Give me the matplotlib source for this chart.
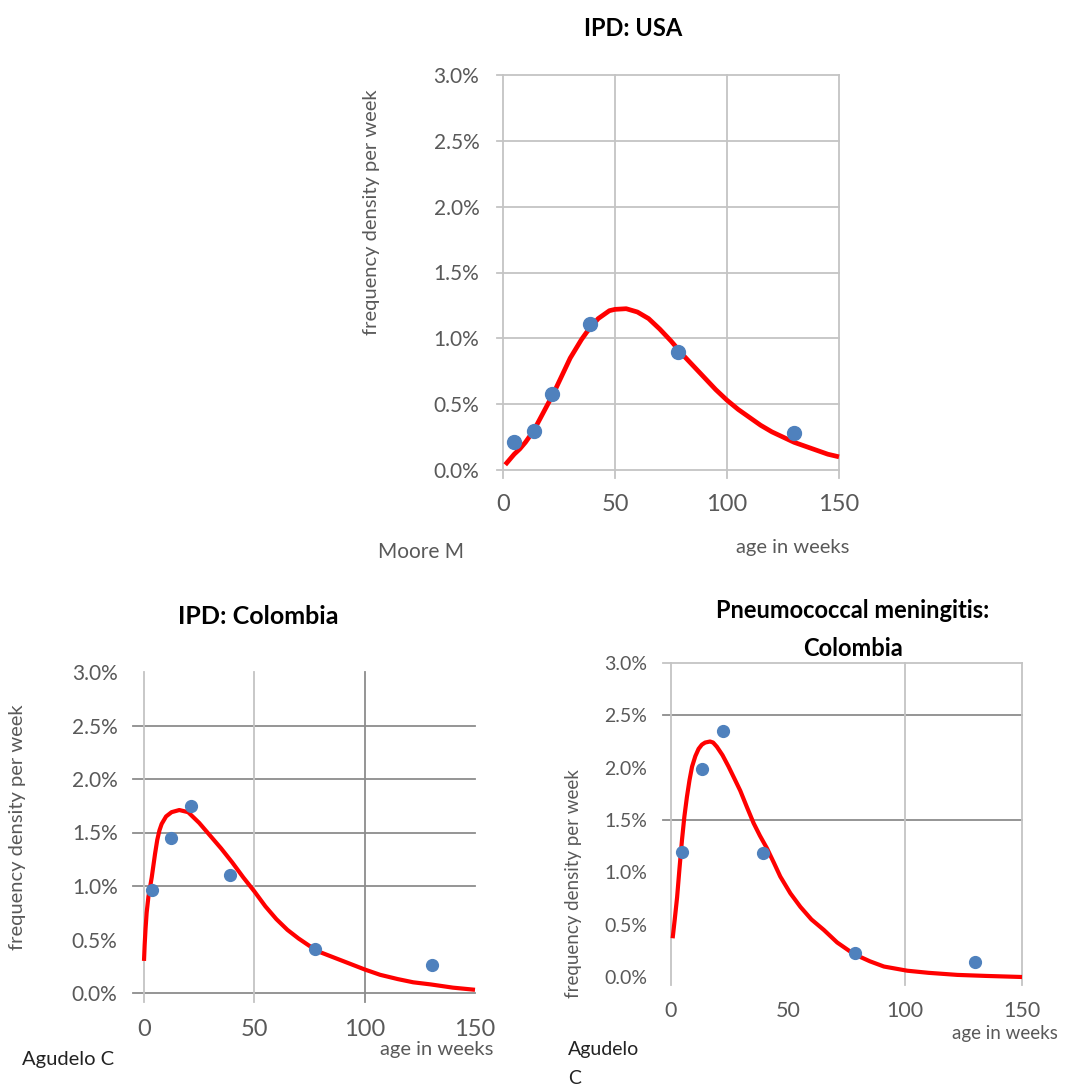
import matplotlib
matplotlib.use("Agg")
import matplotlib.pyplot as plt
from matplotlib.ticker import FixedLocator, FuncFormatter

plt.rcParams['font.family'] = ['Lato', 'DejaVu Sans']

W, H = 1082, 1086

# IPD: USA (Moore M)
usa_obs_weeks = [5, 14, 22, 39, 78, 130]
usa_obs_pct = [0.21, 0.30, 0.58, 1.11, 0.90, 0.28]
usa_fit_weeks = [1, 2.5, 5, 7.5, 10, 12.5, 15, 17.5, 20, 22.5, 25, 27.5, 30, 32.5, 35, 37.5,
                 40, 42.5, 45, 47.5, 50, 55, 60, 65, 70, 75, 80, 85, 90, 95, 100, 105, 110,
                 115, 120, 125, 130, 135, 140, 145, 150]
usa_fit_pct = [0.04, 0.07, 0.12, 0.16, 0.21, 0.27, 0.34, 0.42, 0.50, 0.58, 0.67, 0.76, 0.85,
               0.92, 0.99, 1.05, 1.10, 1.15, 1.18, 1.21, 1.22, 1.225, 1.20, 1.15, 1.07, 0.98,
               0.88, 0.79, 0.70, 0.61, 0.53, 0.46, 0.40, 0.34, 0.29, 0.25, 0.21, 0.18, 0.15,
               0.12, 0.10]

# IPD: Colombia (Agudelo C)
col_obs_weeks = [3.5, 12.2, 21.3, 39, 77.5, 130.3]
col_obs_pct = [0.96, 1.45, 1.75, 1.10, 0.41, 0.26]
col_fit_weeks = [0, 0.3, 0.7, 1.2, 2, 3.5, 5, 6, 7, 8, 10, 12.5, 16, 20, 25, 30, 35, 40, 45,
                 50, 55, 60, 65, 70, 75, 80, 85, 90, 95, 100, 107, 115, 122, 130, 140, 150]
col_fit_pct = [0.30, 0.45, 0.60, 0.75, 0.90, 1.08, 1.30, 1.43, 1.52, 1.58, 1.65, 1.69, 1.71,
               1.69, 1.59, 1.47, 1.35, 1.22, 1.08, 0.95, 0.81, 0.69, 0.59, 0.51, 0.44, 0.38,
               0.34, 0.30, 0.26, 0.22, 0.17, 0.13, 0.10, 0.08, 0.05, 0.03]

# Pneumococcal meningitis: Colombia (Agudelo C)
men_obs_weeks = [4.7, 13.2, 22.1, 39.3, 78.5, 130]
men_obs_pct = [1.19, 1.99, 2.35, 1.18, 0.23, 0.14]
men_fit_weeks = [0.7, 1.6, 2.6, 3.6, 4.7, 5.7, 6.8, 7.9, 9, 10.4, 11.8, 13.2, 14.6, 16.7, 18,
                 19.6, 22, 24.6, 27, 29.6, 32.5, 35.3, 38, 41, 44, 46.7, 51, 55.3, 60, 65.3,
                 71, 78.1, 85, 91, 101, 110, 122.4, 135, 150]
men_fit_pct = [0.37, 0.55, 0.76, 1.03, 1.31, 1.53, 1.72, 1.88, 2.01, 2.11, 2.18, 2.22, 2.24,
               2.25, 2.24, 2.20, 2.12, 2.01, 1.90, 1.78, 1.62, 1.47, 1.35, 1.23, 1.09, 0.96,
               0.80, 0.67, 0.55, 0.45, 0.33, 0.22, 0.15, 0.10, 0.06, 0.04, 0.02, 0.01, 0.0]

x_ticks = [0, 50, 100, 150]
y_ticks = [0.0, 0.5, 1.0, 1.5, 2.0, 2.5, 3.0]

LIGHT = '#c4c4c4'
DARK = '#8c8c8c'
TXT = '#595959'

fig = plt.figure(figsize=(W / 100, H / 100), dpi=100)


def px_axes(left, right, top, bottom):
    return fig.add_axes([left / W, (H - bottom) / H, (right - left) / W, (bottom - top) / H])


def ftext(x, y, s, **kw):
    fig.text(x / W, 1 - y / H, s, **kw)


def panel(ax, hlines, vlines, obs_x, obs_y, fit_x, fit_y, xsize, ysize, pad, hext, vext,
          lw, ms):
    ax.set_xlim(0, 150)
    ax.set_ylim(0, 3.0)
    for s in ax.spines.values():
        s.set_visible(False)
    for y, c in hlines:
        ax.plot([-hext, 150], [y, y], color=c, lw=1.3, clip_on=False, zorder=1)
    for x, c in vlines:
        ax.plot([x, x], [-vext, 3.0], color=c, lw=1.3, clip_on=False, zorder=1)
    ax.plot(fit_x, fit_y, color='#ff0000', lw=lw, zorder=3, clip_on=False,
            solid_capstyle='butt', solid_joinstyle='round')
    ax.plot(obs_x, obs_y, 'o', color='#4f81bd', ms=ms, zorder=4, clip_on=False)
    ax.xaxis.set_major_locator(FixedLocator(x_ticks))
    ax.yaxis.set_major_locator(FixedLocator(y_ticks))
    ax.yaxis.set_major_formatter(FuncFormatter(lambda v, p: f"{v:.1f}%"))
    ax.tick_params(length=0, pad=pad, colors=TXT)
    ax.tick_params(axis='x', labelsize=xsize)
    ax.tick_params(axis='y', labelsize=ysize)
    ax.set_facecolor('none')


# top: USA
ax1 = px_axes(503, 839, 75, 470)
panel(ax1, [(y, LIGHT) for y in y_ticks], [(x, LIGHT) for x in x_ticks],
      usa_obs_weeks, usa_obs_pct, usa_fit_weeks, usa_fit_pct, 17, 15, 17, 2.7, 0.06, 3.4, 10)
ftext(633, 29, "IPD: USA", ha='center', va='center', fontsize=17, fontweight='bold')
ftext(372, 212, "frequency density per week", rotation=90, ha='center', va='center',
      fontsize=14.5, color=TXT)
ftext(421, 552, "Moore M", ha='center', va='center', fontsize=15, color=TXT)
ftext(793, 548, "age in weeks", ha='center', va='center', fontsize=14.5, color=TXT)

# bottom left: IPD Colombia
ax2 = px_axes(144, 475, 672, 993)
panel(ax2, [(2.5, DARK), (2.0, DARK), (1.5, DARK), (1.0, DARK), (0.0, DARK)],
      [(0, LIGHT), (50, LIGHT), (100, DARK)],
      col_obs_weeks, col_obs_pct, col_fit_weeks, col_fit_pct, 17, 15, 19, 5, 0.08, 3.0, 8.5)
ftext(258, 617, "IPD: Colombia", ha='center', va='center', fontsize=18, fontweight='bold')
ftext(18, 827, "frequency density per week", rotation=90, ha='center', va='center',
      fontsize=14.5, color=TXT)
ftext(437, 1049, "age in weeks", ha='center', va='center', fontsize=14.5, color=TXT)
ftext(68, 1060, "Agudelo C", ha='center', va='center', fontsize=14.5, color='#222222')

# bottom right: meningitis Colombia
ax3 = px_axes(671, 1022, 663, 977)
panel(ax3, [(3.0, LIGHT), (2.5, DARK), (1.5, DARK)],
      [(0, LIGHT), (100, LIGHT), (150, LIGHT)],
      men_obs_weeks, men_obs_pct, men_fit_weeks, men_fit_pct, 15.5, 14, 17, 3.4, 0.08, 3.0, 8.5)
ftext(853, 610, "Pneumococcal meningitis:", ha='center', va='center', fontsize=17,
      fontweight='bold')
ftext(853, 648, "Colombia", ha='center', va='center', fontsize=17, fontweight='bold')
ftext(573, 884, "frequency density per week", rotation=90, ha='center', va='center',
      fontsize=13.5, color=TXT)
ftext(1058, 1033, "age in weeks", ha='right', va='center', fontsize=13.5, color=TXT)
ftext(568, 1050, "Agudelo", ha='left', va='center', fontsize=14, color='#222222')
ftext(568, 1078, "C", ha='left', va='center', fontsize=14, color='#222222')

fig.savefig("out.png", dpi=100, facecolor='white')
